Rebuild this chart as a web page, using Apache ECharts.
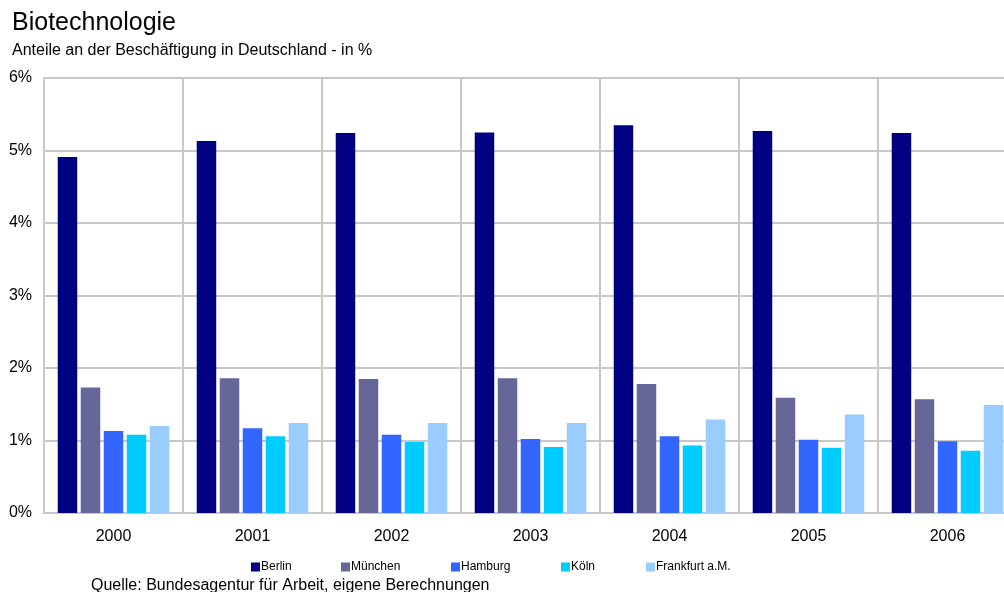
<!DOCTYPE html>
<html><head><meta charset="utf-8">
<script src="https://cdn.jsdelivr.net/npm/echarts@6/dist/echarts.min.js"></script>
<style>html,body{margin:0;padding:0;background:#fff;overflow:hidden}#c{width:1017px;height:592px}</style>
</head><body><div id="c"></div>
<script>
const years = ['2000','2001','2002','2003','2004','2005','2006'];
const seriesNames = ['Berlin','München','Hamburg','Köln','Frankfurt a.M.'];
const berlin    = [4.91, 5.13, 5.24, 5.25, 5.35, 5.27, 5.24];
const muenchen  = [1.73, 1.86, 1.85, 1.86, 1.78, 1.59, 1.57];
const hamburg   = [1.13, 1.17, 1.08, 1.02, 1.06, 1.01, 0.99];
const koeln     = [1.08, 1.06, 0.98, 0.91, 0.93, 0.90, 0.86];
const frankfurt = [1.20, 1.24, 1.24, 1.24, 1.29, 1.36, 1.49];
const colors = ['#000080','#666699','#3366FF','#00CCFF','#99CCFF'];
const legendX = [251, 341, 451, 561, 646];

const values = [berlin, muenchen, hamburg, koeln, frankfurt];
const font = '"Liberation Sans", Arial, sans-serif';
const chart = echarts.init(document.getElementById('c'));
chart.setOption({
  animation: false,
  textStyle: {fontFamily: font},
  title: [
    {text: 'Biotechnologie', left: 7, top: 6, textStyle: {fontSize: 25, fontWeight: 'normal', color: '#000', fontFamily: font}},
    {text: 'Anteile an der Beschäftigung in Deutschland - in %', left: 7, top: 38, textStyle: {fontSize: 16, fontWeight: 'normal', color: '#000', fontFamily: font}},
    {text: 'Quelle: Bundesagentur für Arbeit, eigene Berechnungen', left: 86, top: 573, textStyle: {fontSize: 16, fontWeight: 'normal', color: '#000', fontFamily: font}}
  ],
  legend: seriesNames.map((n, i) => ({
    data: [n], left: legendX[i], top: 561, padding: 0, itemWidth: 9, itemHeight: 9, itemGap: 2,
    icon: 'rect', textStyle: {fontSize: 12, color: '#000', fontFamily: font, padding: [0,0,0,-4]}
  })),
  grid: {left: 44, top: 78, width: 973, bottom: 79, containLabel: false},
  xAxis: {
    type: 'category', data: years, boundaryGap: true,
    axisLine: {lineStyle: {color: '#c8c8c8', width: 2}},
    axisTick: {show: false},
    axisLabel: {fontSize: 16, color: '#000', margin: 16, fontFamily: font},
    splitLine: {show: true, lineStyle: {color: '#c8c8c8', width: 2}}
  },
  yAxis: {
    type: 'value', min: 0, max: 6, interval: 1,
    axisLine: {show: true, lineStyle: {color: '#c8c8c8', width: 2}},
    axisTick: {show: false},
    axisLabel: {fontSize: 16, color: '#000', margin: 12, formatter: '{value}%', fontFamily: font},
    splitLine: {lineStyle: {color: '#c8c8c8', width: 2}}
  },
  series: seriesNames.map((n, i) => ({
    name: n, type: 'bar', data: values[i],
    itemStyle: {color: colors[i]},
    barWidth: 19.5, barGap: '18%', barCategoryGap: '20%'
  }))
});
</script></body></html>
